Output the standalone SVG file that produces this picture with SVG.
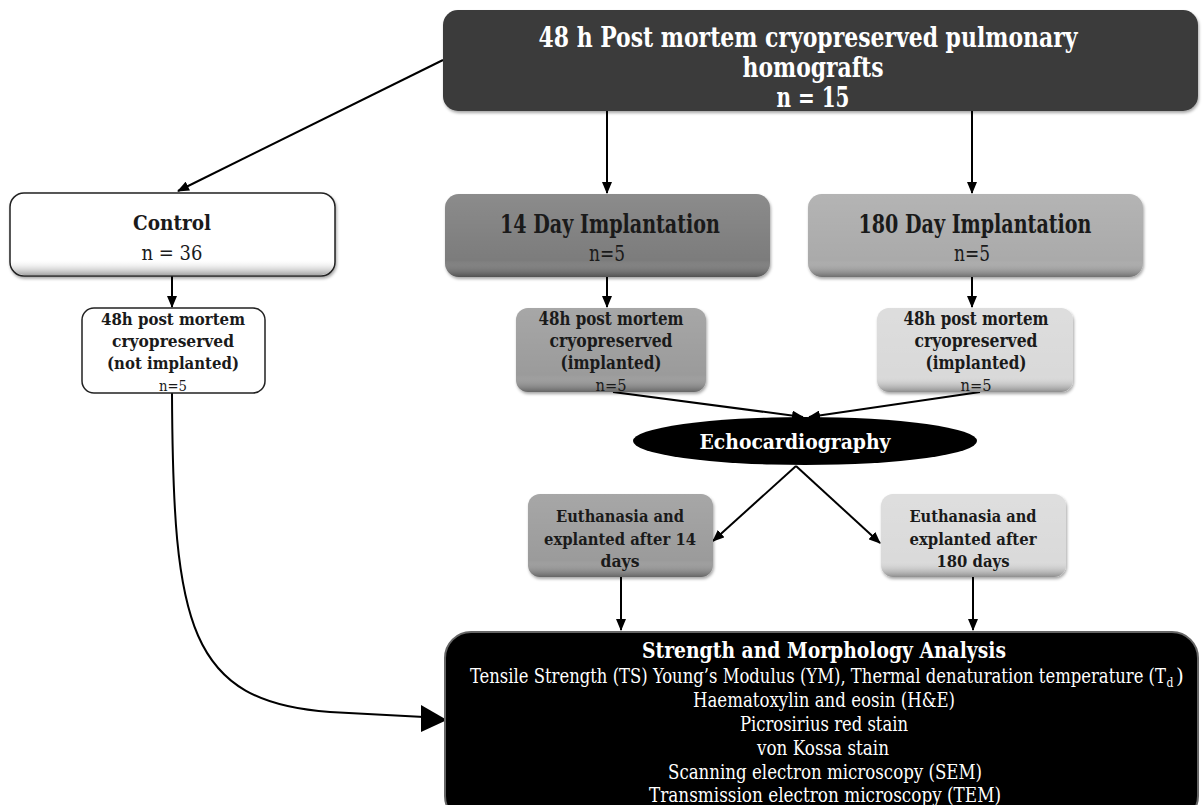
<svg xmlns="http://www.w3.org/2000/svg" width="1202" height="805" viewBox="0 0 1202 805">
<defs>
<style>
.t{font-family:"DejaVu Serif","Liberation Serif",serif;font-stretch:condensed;text-anchor:middle;fill:#1a1a1a}
.b{font-weight:bold}
.w{fill:#ffffff}
.c{fill:none;stroke:#000;stroke-width:2}
</style>
<marker id="ah" markerUnits="userSpaceOnUse" markerWidth="12" markerHeight="10" refX="11" refY="5" orient="auto">
<path d="M0,0 L12,5 L0,10 z" fill="#000"/>
</marker>
<linearGradient id="bev" x1="0" y1="0" x2="0" y2="1">
<stop offset="0" stop-color="#fff" stop-opacity="0.12"/>
<stop offset="0.8" stop-color="#fff" stop-opacity="0"/>
<stop offset="1" stop-color="#000" stop-opacity="0.35"/>
</linearGradient>
<filter id="sh" x="-5%" y="-5%" width="110%" height="115%">
<feDropShadow dx="1" dy="2" stdDeviation="1.5" flood-color="#000" flood-opacity="0.35"/>
</filter>
</defs>

<g id="connectors">
<line class="c" x1="443" y1="60" x2="178" y2="191" marker-end="url(#ah)"/>
<line class="c" x1="607" y1="111" x2="607" y2="193" marker-end="url(#ah)"/>
<line class="c" x1="972" y1="111" x2="972" y2="193" marker-end="url(#ah)"/>
<line class="c" x1="172" y1="276" x2="172" y2="307" marker-end="url(#ah)"/>
<line class="c" x1="607" y1="277" x2="607" y2="307" marker-end="url(#ah)"/>
<line class="c" x1="972" y1="277" x2="972" y2="307" marker-end="url(#ah)"/>
<line class="c" x1="613" y1="392" x2="803" y2="417" marker-end="url(#ah)"/>
<line class="c" x1="980" y1="392" x2="809" y2="417" marker-end="url(#ah)"/>
<line class="c" x1="796" y1="466" x2="713" y2="541" marker-end="url(#ah)"/>
<line class="c" x1="796" y1="466" x2="880" y2="543" marker-end="url(#ah)"/>
<line class="c" x1="621" y1="577" x2="621" y2="630" marker-end="url(#ah)"/>
<line class="c" x1="973" y1="577" x2="973" y2="630" marker-end="url(#ah)"/>
<path class="c" d="M172,393 C173,625 188,702 330,712 L424,717"/>
<path d="M421,705 L447,720 L421,732 z" fill="#000"/>
</g>

<g id="top">
<rect x="443" y="10" width="755" height="101" rx="15" fill="#3b3b3b" filter="url(#sh)"/>
<text class="t b w" x="808" y="47" font-size="28" textLength="539" lengthAdjust="spacingAndGlyphs">48 h Post mortem cryopreserved pulmonary</text>
<text class="t b w" x="813" y="77" font-size="28" textLength="141" lengthAdjust="spacingAndGlyphs">homografts</text>
<text class="t b w" x="813" y="107" font-size="28" textLength="73" lengthAdjust="spacingAndGlyphs">n = 15</text>
</g>

<g id="control">
<rect x="10" y="193" width="325" height="83" rx="14" fill="#fff" stroke="#222" stroke-width="1.5" filter="url(#sh)"/>
<rect x="11" y="194" width="323" height="81" rx="13" fill="url(#bev)"/>
<text class="t b" x="172" y="230" font-size="21" textLength="78" lengthAdjust="spacingAndGlyphs" style="font-stretch:normal">Control</text>
<text class="t" x="172" y="260" font-size="21" textLength="61" lengthAdjust="spacingAndGlyphs" style="font-stretch:normal">n = 36</text>
</g>

<g id="notimplanted">
<rect x="82" y="308" width="183" height="85" rx="12" fill="#fff" stroke="#222" stroke-width="1.5"/>
<text class="t b" x="173" y="325" font-size="16" textLength="144" lengthAdjust="spacingAndGlyphs" style="font-stretch:normal">48h post mortem</text>
<text class="t b" x="173" y="347" font-size="16" textLength="122" lengthAdjust="spacingAndGlyphs" style="font-stretch:normal">cryopreserved</text>
<text class="t b" x="173" y="369" font-size="16" textLength="132" lengthAdjust="spacingAndGlyphs" style="font-stretch:normal">(not implanted)</text>
<text class="t" x="173" y="391" font-size="15" textLength="28" lengthAdjust="spacingAndGlyphs" style="font-stretch:normal">n=5</text>
</g>

<g id="day14">
<rect x="445" y="194" width="325" height="83" rx="14" fill="#7b7b7b" filter="url(#sh)"/>
<rect x="445" y="194" width="325" height="83" rx="14" fill="url(#bev)"/>
<text class="t b" x="610" y="233" font-size="26" textLength="220" lengthAdjust="spacingAndGlyphs">14 Day Implantation</text>
<text class="t" x="607" y="261" font-size="22" textLength="36" lengthAdjust="spacingAndGlyphs">n=5</text>
</g>

<g id="day180">
<rect x="808" y="194" width="335" height="83" rx="14" fill="#aaaaaa" filter="url(#sh)"/>
<rect x="808" y="194" width="335" height="83" rx="14" fill="url(#bev)"/>
<text class="t b" x="975" y="233" font-size="26" textLength="233" lengthAdjust="spacingAndGlyphs">180 Day Implantation</text>
<text class="t" x="972" y="261" font-size="22" textLength="36" lengthAdjust="spacingAndGlyphs">n=5</text>
</g>

<g id="implanted14">
<rect x="516" y="308" width="190" height="84" rx="12" fill="#9b9b9b" filter="url(#sh)"/>
<rect x="516" y="308" width="190" height="84" rx="12" fill="url(#bev)"/>
<text class="t b" x="611" y="325" font-size="18" textLength="145" lengthAdjust="spacingAndGlyphs">48h post mortem</text>
<text class="t b" x="611" y="347" font-size="18" textLength="123" lengthAdjust="spacingAndGlyphs">cryopreserved</text>
<text class="t b" x="611" y="369" font-size="18" textLength="101" lengthAdjust="spacingAndGlyphs">(implanted)</text>
<text class="t" x="611" y="391" font-size="16" textLength="31" lengthAdjust="spacingAndGlyphs">n=5</text>
</g>

<g id="implanted180">
<rect x="877" y="308" width="196" height="84" rx="12" fill="#d9d9d9" filter="url(#sh)"/>
<rect x="877" y="308" width="196" height="84" rx="12" fill="url(#bev)"/>
<text class="t b" x="976" y="325" font-size="18" textLength="145" lengthAdjust="spacingAndGlyphs">48h post mortem</text>
<text class="t b" x="976" y="347" font-size="18" textLength="123" lengthAdjust="spacingAndGlyphs">cryopreserved</text>
<text class="t b" x="976" y="369" font-size="18" textLength="101" lengthAdjust="spacingAndGlyphs">(implanted)</text>
<text class="t" x="976" y="391" font-size="16" textLength="31" lengthAdjust="spacingAndGlyphs">n=5</text>
</g>

<g id="echo">
<ellipse cx="805" cy="441" rx="172" ry="24" fill="#000"/>
<text class="t b w" x="795" y="449" font-size="21" textLength="191" lengthAdjust="spacingAndGlyphs" style="font-stretch:normal">Echocardiography</text>
</g>

<g id="euth14">
<rect x="528" y="494" width="185" height="83" rx="12" fill="#9b9b9b" filter="url(#sh)"/>
<rect x="528" y="494" width="185" height="83" rx="12" fill="url(#bev)"/>
<text class="t b" x="620" y="522" font-size="17" textLength="128" lengthAdjust="spacingAndGlyphs" style="font-stretch:normal">Euthanasia and</text>
<text class="t b" x="620" y="545" font-size="17" textLength="152" lengthAdjust="spacingAndGlyphs" style="font-stretch:normal">explanted after 14</text>
<text class="t b" x="620" y="567" font-size="17" textLength="39" lengthAdjust="spacingAndGlyphs" style="font-stretch:normal">days</text>
</g>

<g id="euth180">
<rect x="881" y="494" width="185" height="83" rx="12" fill="#dadada" filter="url(#sh)"/>
<rect x="881" y="494" width="185" height="83" rx="12" fill="url(#bev)"/>
<text class="t b" x="973" y="522" font-size="17" textLength="127" lengthAdjust="spacingAndGlyphs" style="font-stretch:normal">Euthanasia and</text>
<text class="t b" x="973" y="545" font-size="17" textLength="127" lengthAdjust="spacingAndGlyphs" style="font-stretch:normal">explanted after</text>
<text class="t b" x="973" y="567" font-size="17" textLength="73" lengthAdjust="spacingAndGlyphs" style="font-stretch:normal">180 days</text>
</g>

<g id="analysis">
<rect x="445" y="632" width="753" height="190" rx="26" fill="#000" stroke="#666" stroke-width="2"/>
<text class="t b w" x="824" y="658" font-size="23" textLength="364" lengthAdjust="spacingAndGlyphs">Strength and Morphology Analysis</text>
<text class="t w" x="818" y="683" font-size="20" textLength="696" lengthAdjust="spacingAndGlyphs">Tensile Strength (TS) Young’s Modulus (YM), Thermal denaturation temperature (T</text>
<text class="t w" x="1170" y="687" font-size="12">d</text>
<text class="t w" x="1180" y="683" font-size="20" style="font-stretch:normal">)</text>
<text class="t w" x="824" y="707" font-size="20" textLength="262" lengthAdjust="spacingAndGlyphs">Haematoxylin and eosin (H&amp;E)</text>
<text class="t w" x="824" y="731" font-size="20" textLength="168" lengthAdjust="spacingAndGlyphs">Picrosirius red stain</text>
<text class="t w" x="823" y="755" font-size="20" textLength="132" lengthAdjust="spacingAndGlyphs">von Kossa stain</text>
<text class="t w" x="825" y="779" font-size="20" textLength="314" lengthAdjust="spacingAndGlyphs">Scanning electron microscopy (SEM)</text>
<text class="t w" x="825" y="802" font-size="20" textLength="352" lengthAdjust="spacingAndGlyphs">Transmission electron microscopy (TEM)</text>
</g>
</svg>
